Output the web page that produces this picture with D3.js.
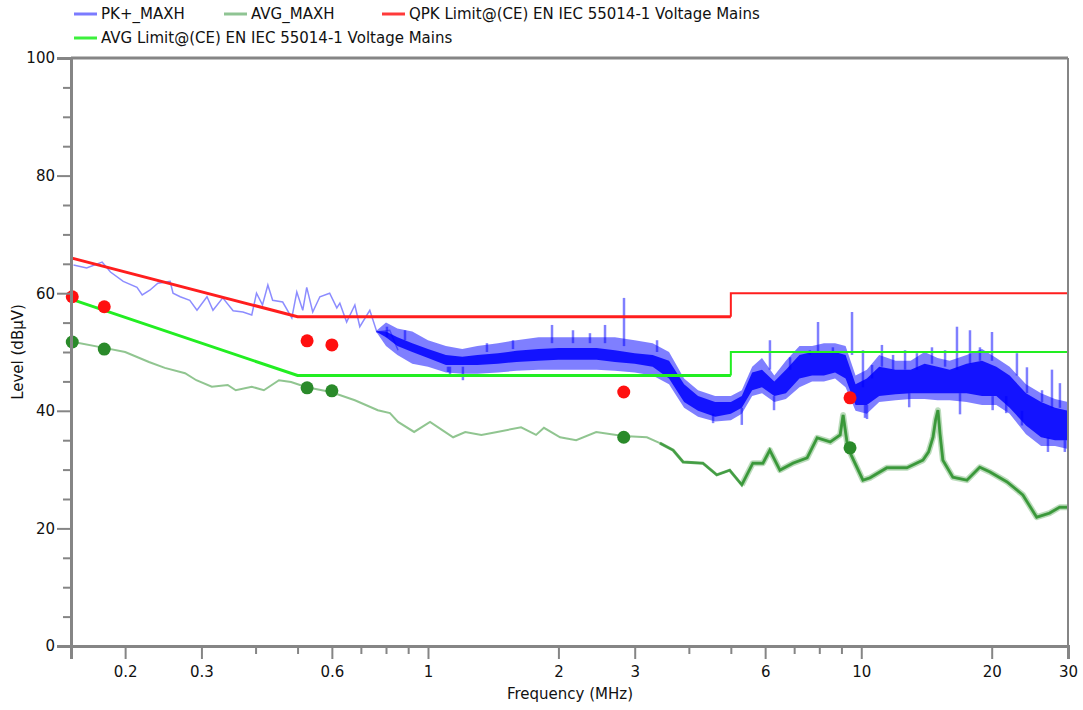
<!DOCTYPE html>
<html>
<head>
<meta charset="utf-8">
<script src="https://cdn.jsdelivr.net/npm/d3@7/dist/d3.min.js"></script>
<style>
body { margin: 0; background: #fff; }
text { font-family: "DejaVu Sans", sans-serif; }
</style>
</head>
<body>
<div id="chart"></div>
<script>
// ticks
const xMajor = [0.2, 0.3, 0.6, 1, 2, 3, 6, 10, 20, 30];
const xMinor = [0.4, 0.5, 0.7, 0.8, 0.9, 4, 5, 7, 8, 9];
const yMajor = [0, 20, 40, 60, 80, 100];
const yMinor = [5, 10, 15, 25, 30, 35, 45, 50, 55, 65, 70, 75, 85, 90, 95];

// limit lines (EN IEC 55014-1 mains)
const limFreq = [0.15, 0.5, 5, 5, 30];
const qpkLimit = [66, 56, 56, 60, 60];
const avgLimit = [59, 46, 46, 50, 50];

// PK+ trace, sparse low-frequency part
const pkSparseFreq = [0.152,0.163,0.177,0.185,0.198,0.213,0.219,0.228,0.238,0.254,0.258,0.268,0.282,0.293,0.309,0.319,0.336,0.355,0.374,0.392,0.402,0.415,0.427,0.438,0.462,0.485,0.498,0.514,0.525,0.542,0.563,0.593,0.616,0.626,0.649,0.678,0.696,0.734,0.762,0.816,0.853];
const pkSparseLevel = [64.8,64.3,65.3,63.6,62.0,61.0,59.7,60.5,61.7,62.0,60.0,59.4,58.8,57.1,59.4,57.1,59.2,57.0,56.8,56.3,60.0,58.0,61.4,58.8,58.5,55.8,60.2,57.1,61.0,56.8,59.4,60.0,57.5,58.3,55.1,58.0,54.3,57.1,53.4,53.7,50.3];

// PK+ trace, dense part: outer envelope and solid core
const bandFreq = [0.76,0.8,0.85,0.92,1.0,1.1,1.2,1.3,1.45,1.6,1.8,2.0,2.2,2.45,2.7,3.0,3.3,3.6,3.9,4.2,4.6,5.0,5.3,5.6,5.9,6.3,6.7,7.2,7.7,8.2,8.7,9.2,9.7,10.3,11,12,13,14,15,16,17.5,19,20.5,22,24,26,28,30];
const bandLo = [53.4,51,49.5,48,47.5,46.5,46.3,46.3,46.5,46.8,47,47,47,47,46.8,46.5,46,44.5,40.5,39,38.2,38.4,39.5,42.5,43,41.5,42,44,45,45,45.5,44,40,39.5,41.5,41.8,42,42,41.8,41.8,41.5,41,41,39.5,36,34,34,33.5];
const bandHi = [53.6,55,54,53.5,52,51,50.5,51,51.5,52,52.5,52.5,52.5,52.5,52.5,52,51.5,50,45.5,43.5,42.5,42.5,43.5,47.5,49,46,48.5,51,51,51.5,51.5,51,46,47,49.5,48.5,48.5,50,49,48.5,49.5,50.5,49,47.5,44.5,43,42,41.5];
const coreLo = [53.45,52.5,51,50,49,47.8,47.8,47.8,48,48.3,48.5,48.7,48.7,48.7,48.3,48,47.5,45.5,41.5,40,39,39.5,40.5,43.5,44,42.5,43,45.5,46,46,46.5,45.5,41,41,42.5,42.8,43,43,43,43,43,42.5,42.5,40.5,37.5,35.5,35,35];
const coreHi = [53.55,53.5,52.5,51.5,50.5,49.5,49.2,49.5,49.8,50.2,50.5,50.7,50.7,50.7,50.3,49.8,49.5,48.5,44.5,42.5,41.5,41.5,42.5,46.5,47,45,47,49.5,50,50,50,49.5,44.5,45.5,47.5,47,47,48,47.5,47,48,48.5,47.5,46,43,41.5,40.5,40];

// single PK+ spikes: freq, from, to
const spikeFreq = [0.804,0.885,1.112,1.124,1.204,1.368,1.571,1.933,2.161,2.365,2.562,2.834,3.378,4.55,5.3,6.155,6.29,6.85,7.61,7.947,8.6,9.52,10.09,10.2,10.31,10.59,11.16,11.84,12.62,12.9,13.44,14.56,15.61,16.63,16.9,17.82,18.79,20.03,20.1,21.6,22.87,23.49,24.12,26.13,26.97,27.55,28.74,29.5];
const spikeFrom = [52.5,52,47.5,47.5,47.5,50,50.5,51.5,51.5,51.5,51.5,51,50,39.5,40.5,47,42.5,47,49.5,50,50,49.5,44,41,41,45.5,47.5,47,47,43,47,48,47.5,47,43,48,48.5,48.5,42.5,42.5,46,40,43,41.5,35.5,40.5,40.5,35];
const spikeTo = [54.3,53.7,46.6,45.8,45.2,51.5,52,54.6,53.7,53.2,54.6,59.2,52,37.9,37.6,52,40.1,49.1,50.3,55.1,50.8,56.8,50.3,38.8,38.6,47.8,51.2,49.5,50.3,40.6,49.8,50.8,50.3,54.3,39.4,53.7,50.8,53.4,40.1,39.6,49.8,37.5,47.4,43.5,33,47,44.7,33];

// AVG trace
const avgFreq = [0.152,0.179,0.200,0.227,0.247,0.275,0.292,0.317,0.345,0.360,0.392,0.418,0.453,0.483,0.525,0.597,0.678,0.766,0.817,0.853,0.929,1.011,1.079,1.143,1.219,1.328,1.444,1.640,1.776,1.852,2.018,2.198,2.445,2.82,3.20,3.43,3.68,3.88,4.31,4.64,4.97,5.30,5.62,5.93,6.15,6.49,6.96,7.50,7.91,8.48,8.94,9.08,9.31,9.77,10.09,10.47,11.45,12.74,13.88,14.3,14.64,14.85,15.03,15.2,15.43,16.27,17.53,18.77,19.8,21.7,23.6,25.4,27.2,28.7,30];
const avgLevel = [51.7,50.7,50.0,48.3,47.3,46.4,45.2,44.1,44.4,43.5,44.1,43.5,45.2,44.9,44.0,43.2,41.8,40.1,39.6,38.1,36.4,38.1,36.7,35.5,36.4,35.9,36.4,37.2,35.9,37.1,35.5,35.0,36.4,35.7,35.5,34.5,33.3,31.3,31.1,29.1,29.9,27.4,31.1,31.1,33.3,29.9,31.1,32.0,35.4,34.7,35.9,39.3,33.7,30.4,28.2,28.6,30.3,30.3,31.6,33,35.5,38.5,40.1,36,31.6,28.7,28.2,30.4,29.6,27.9,25.7,21.9,22.6,23.6,23.6];

// final measurement points
const measFreq = [0.151, 0.179, 0.526, 0.600, 2.83, 9.42];
const qpkMeas = [59.4, 57.7, 51.9, 51.2, 43.2, 42.2];
const avgMeas = [51.7, 50.5, 43.9, 43.4, 35.5, 33.7];

const legendNames = ["PK+_MAXH", "AVG_MAXH", "QPK Limit@(CE) EN IEC 55014-1 Voltage Mains", "AVG Limit@(CE) EN IEC 55014-1 Voltage Mains"];

const width = 1083, height = 710;
const plot = {left: 71, right: 1068, top: 58, bottom: 646};
const axisGrey = "#858585";
const fontSize = "15px";

const svg = d3.select("#chart").append("svg")
    .attr("width", width)
    .attr("height", height);

const x = d3.scaleLog().domain([0.15, 30]).range([plot.left, plot.right]);
const y = d3.scaleLinear().domain([0, 100]).range([plot.bottom, plot.top]);

const line = d3.line().x(d => x(d[0])).y(d => y(d[1]));

// PK+ dense band
const band = bandFreq.map((f, i) => ({f, lo: bandLo[i], hi: bandHi[i], clo: coreLo[i], chi: coreHi[i]}));
svg.append("path")
    .datum(band)
    .attr("fill", "#0000ff")
    .attr("fill-opacity", 0.5)
    .attr("d", d3.area().x(d => x(d.f)).y0(d => y(d.lo)).y1(d => y(d.hi)));
svg.append("path")
    .datum(band)
    .attr("fill", "#0000ff")
    .attr("fill-opacity", 0.85)
    .attr("d", d3.area().x(d => x(d.f)).y0(d => y(d.clo)).y1(d => y(d.chi)));

svg.selectAll(".spike")
    .data(spikeFreq.map((f, i) => [f, spikeFrom[i], spikeTo[i]]))
    .join("line")
    .attr("class", "spike")
    .attr("x1", d => x(d[0])).attr("x2", d => x(d[0]))
    .attr("y1", d => y(d[1])).attr("y2", d => y(d[2]))
    .attr("stroke", "#0000ff")
    .attr("stroke-opacity", 0.5)
    .attr("stroke-width", 2.5);

// PK+ sparse line
svg.append("path")
    .datum(pkSparseFreq.map((f, i) => [f, pkSparseLevel[i]]))
    .attr("fill", "none")
    .attr("stroke", "#0000ff")
    .attr("stroke-opacity", 0.45)
    .attr("stroke-width", 1.5)
    .attr("d", line);

// AVG trace
const avgData = avgFreq.map((f, i) => [f, avgLevel[i]]);
svg.append("path")
    .datum(avgData.filter(d => d[0] >= 5.2))
    .attr("fill", "none")
    .attr("stroke", "#228b22")
    .attr("stroke-opacity", 0.3)
    .attr("stroke-width", 6)
    .attr("stroke-linejoin", "round")
    .attr("d", line);
svg.append("path")
    .datum(avgData)
    .attr("fill", "none")
    .attr("stroke", "#228b22")
    .attr("stroke-opacity", 0.5)
    .attr("stroke-width", 2)
    .attr("d", line);
svg.append("path")
    .datum(avgData.filter(d => d[0] >= 3.4))
    .attr("fill", "none")
    .attr("stroke", "#228b22")
    .attr("stroke-opacity", 0.7)
    .attr("stroke-width", 3)
    .attr("d", line);

// limits
const drawLimit = (vals, color) => {
    const pts = limFreq.map((f, i) => [f, vals[i]]);
    svg.append("path").datum(pts.slice(0, 3))
        .attr("fill", "none").attr("stroke", color).attr("stroke-width", 3)
        .attr("d", line);
    svg.append("path").datum(pts.slice(2))
        .attr("fill", "none").attr("stroke", color).attr("stroke-width", 2)
        .attr("d", line);
};
drawLimit(avgLimit, "#22ee22");
drawLimit(qpkLimit, "#ff1e1e");

// measurement dots
svg.selectAll(".qpk-dot")
    .data(measFreq.map((f, i) => [f, qpkMeas[i]]))
    .join("circle")
    .attr("class", "qpk-dot")
    .attr("cx", d => x(d[0])).attr("cy", d => y(d[1]))
    .attr("r", 6.5)
    .attr("fill", "#ff1010");
svg.selectAll(".avg-dot")
    .data(measFreq.map((f, i) => [f, avgMeas[i]]))
    .join("circle")
    .attr("class", "avg-dot")
    .attr("cx", d => x(d[0])).attr("cy", d => y(d[1]))
    .attr("r", 6.5)
    .attr("fill", "#2a8a2a");

// axes
const styleAxis = g => {
    g.select(".domain").attr("stroke", axisGrey).attr("stroke-width", 3);
    g.selectAll(".tick line").attr("stroke", axisGrey).attr("stroke-width", 2);
    g.selectAll(".tick text").attr("fill", "#111").style("font-size", fontSize)
        .style("font-family", "'DejaVu Sans', sans-serif");
};

svg.append("g")
    .attr("transform", `translate(0,${plot.bottom})`)
    .call(d3.axisBottom(x).tickValues(xMinor).tickSize(8).tickFormat(""))
    .call(styleAxis);
svg.append("g")
    .attr("transform", `translate(0,${plot.bottom})`)
    .call(d3.axisBottom(x).tickValues(xMajor).tickSize(13).tickPadding(7).tickFormat(d => d))
    .call(styleAxis);

svg.append("g")
    .attr("transform", `translate(${plot.left},0)`)
    .call(d3.axisLeft(y).tickValues(yMinor).tickSize(8).tickFormat(""))
    .call(styleAxis);
svg.append("g")
    .attr("transform", `translate(${plot.left},0)`)
    .call(d3.axisLeft(y).tickValues(yMajor).tickSize(14).tickPadding(2))
    .call(styleAxis);

// frame top and right
svg.append("line")
    .attr("x1", plot.left).attr("x2", plot.right)
    .attr("y1", plot.top).attr("y2", plot.top)
    .attr("stroke", axisGrey).attr("stroke-width", 3);
svg.append("line")
    .attr("x1", plot.right).attr("x2", plot.right)
    .attr("y1", plot.top).attr("y2", plot.bottom)
    .attr("stroke", axisGrey).attr("stroke-width", 2);

// axis titles
svg.append("text")
    .attr("x", 570)
    .attr("y", 699)
    .attr("text-anchor", "middle")
    .attr("fill", "#111")
    .style("font-size", fontSize)
    .text("Frequency (MHz)");
svg.append("text")
    .attr("transform", `translate(23,${(plot.top + plot.bottom) / 2}) rotate(-90)`)
    .attr("text-anchor", "middle")
    .attr("fill", "#111")
    .style("font-size", fontSize)
    .text("Level (dBµV)");

// legend
const legendItems = [
    {name: legendNames[0], color: "#7b7bff", x: 74, y: 14},
    {name: legendNames[1], color: "#8fc493", x: 224, y: 14},
    {name: legendNames[2], color: "#ff3a3a", x: 382, y: 14},
    {name: legendNames[3], color: "#3cf03c", x: 74, y: 38}
];
const legend = svg.selectAll(".legend")
    .data(legendItems)
    .join("g")
    .attr("class", "legend")
    .attr("transform", d => `translate(${d.x},${d.y})`);
legend.append("line")
    .attr("x1", 0).attr("x2", 23)
    .attr("stroke", d => d.color)
    .attr("stroke-width", 3);
legend.append("text")
    .attr("x", 27).attr("y", 5)
    .attr("fill", "#111")
    .style("font-size", fontSize)
    .text(d => d.name);
</script>
</body>
</html>
